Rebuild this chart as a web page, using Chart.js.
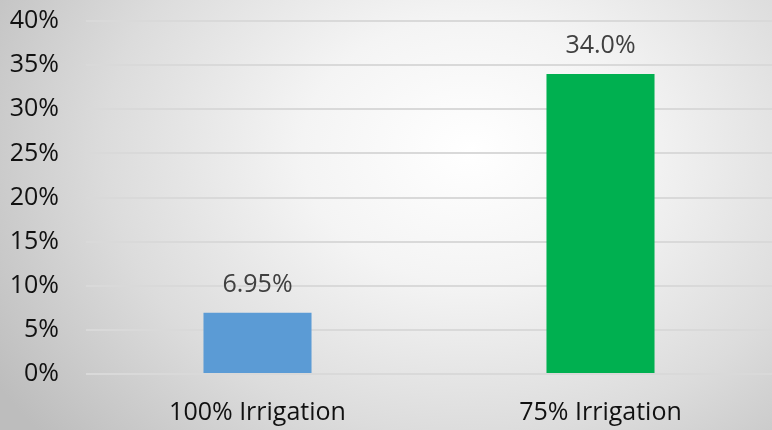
<!DOCTYPE html>
<html>
<head>
<meta charset="utf-8">
<script src="https://cdn.jsdelivr.net/npm/chart.js@4.4.0/dist/chart.umd.min.js"></script>
<style>
	html, body { margin: 0; padding: 0; }
	body { width: 772px; height: 430px; overflow: hidden;
		background: radial-gradient(ellipse 560px 440px at 470px 150px, #ffffff 0%, #f4f4f4 30%, #dcdcdc 65%, #bdbdbd 100%); }
	.chart-box { position: relative; width: 772px; height: 430px; }
</style>
</head>
<body>
<div class="chart-box"><canvas id="irrigation-chart"></canvas></div>
<script>
const categories = ['100% Irrigation', '75% Irrigation'];
const values = [6.95, 34.0];
const valueLabels = ['6.95%', '34.0%'];
const barColors = ['#5b9bd5', '#00b050'];
const yTicks = [0, 5, 10, 15, 20, 25, 30, 35, 40];

const fontFamily = "'Open Sans', 'Noto Sans', sans-serif";

// draws the value above each bar
const barLabels = {
	id: 'barLabels',
	afterDatasetsDraw(chart) {
		const ctx = chart.ctx;
		const meta = chart.getDatasetMeta(0);
		ctx.save();
		ctx.font = '25px ' + fontFamily;
		ctx.fillStyle = '#404040';
		ctx.textAlign = 'center';
		ctx.textBaseline = 'middle';
		meta.data.forEach((bar, i) => {
			ctx.fillText(valueLabels[i], bar.x, bar.y - 28);
		});
		ctx.restore();
	}
};

new Chart(document.getElementById('irrigation-chart'), {
	type: 'bar',
	data: {
		labels: categories,
		datasets: [{
			data: values,
			backgroundColor: barColors,
			categoryPercentage: 1,
			barPercentage: 0.315
		}]
	},
	options: {
		responsive: true,
		maintainAspectRatio: false,
		animation: false,
		layout: { padding: { top: 21, right: 0, bottom: 0, left: 0 } },
		plugins: { legend: { display: false }, tooltip: { enabled: false } },
		scales: {
			x: {
				grid: { display: false },
				border: { display: false },
				ticks: { color: '#111111', font: { size: 25, family: fontFamily }, padding: 16 },
				afterFit: (scale) => { scale.height = 56; }
			},
			y: {
				min: 0,
				max: 40,
				afterBuildTicks: (scale) => { scale.ticks = yTicks.map(v => ({ value: v })); },
				grid: { color: '#d9d9d9', lineWidth: 2, drawTicks: false },
				border: { display: false },
				ticks: { color: '#111111', font: { size: 25, family: fontFamily }, padding: 27,
					callback: (v) => v + '%' },
				afterFit: (scale) => { scale.width = 86; scale.paddingTop = 0; scale.paddingBottom = 0; }
			}
		}
	},
	plugins: [barLabels]
});
</script>
</body>
</html>
